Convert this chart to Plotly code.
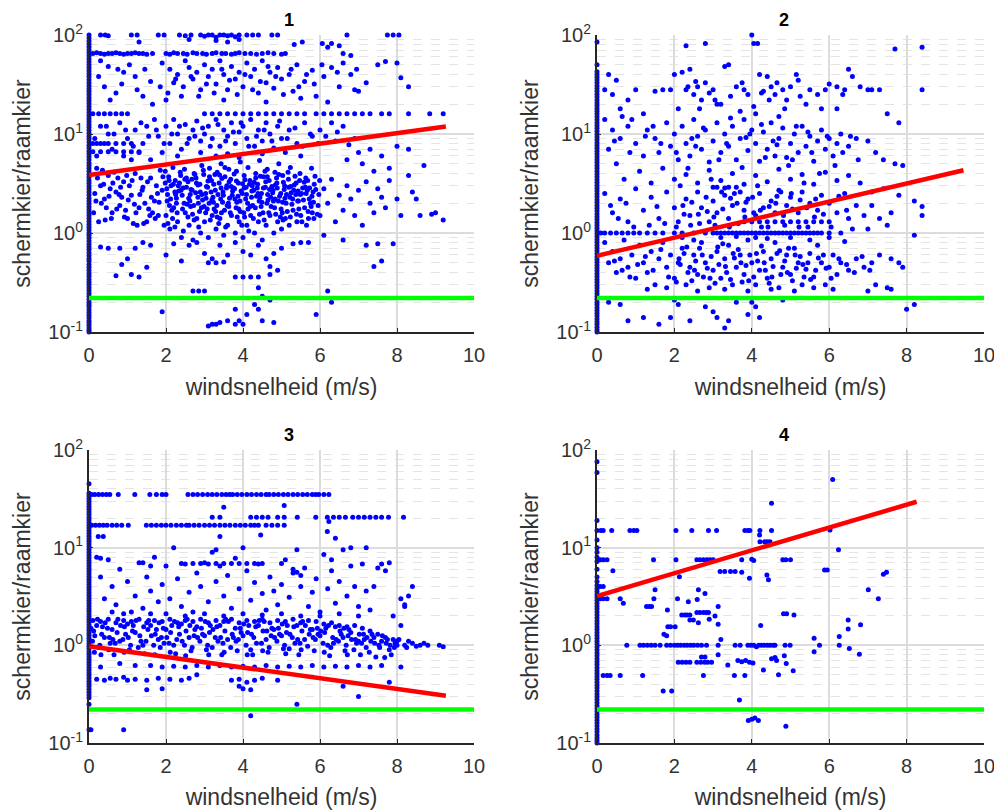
import plotly.graph_objects as go

# ---- data (x = windsnelheid m/s, y = schermkier/raamkier) ----

# points sitting on x = 0 (the solid columns on the left axis)
p1_x0 = [0.1, 0.104, 0.11, 0.117, 0.124, 0.13, 0.139, 0.148, 0.157, 0.168, 0.18, 0.19, 0.2, 0.214, 0.23, 0.245,
         0.262, 0.28, 0.3, 0.318, 0.34, 0.365, 0.39, 0.42, 0.45, 0.48, 0.52, 0.55, 0.59, 0.63, 0.68, 0.72, 0.77,
         0.83, 0.89, 0.95, 1.0, 1.07, 1.14, 1.22, 1.31, 1.4, 1.5, 1.61, 1.72, 1.84, 1.97, 2.1, 2.25, 2.42, 2.6,
         2.78, 2.97, 3.18, 3.4, 3.65, 3.9, 4.2, 4.5, 4.8, 5.1, 5.5, 5.9, 6.3, 6.7, 7.2, 7.7, 8.3, 8.9, 9.5, 10.2,
         10.9, 11.7, 12.5, 13.4, 14.3, 15.4, 16.5, 17.7, 19, 20.3, 21.8, 23.3, 25, 26.8, 28.7, 30.8, 33, 35.4,
         38, 40.7, 43.6, 46.7, 50, 53.6, 57.5, 61.6, 66, 70.7, 75.8, 81.2, 87, 93.3, 100]
p2_x0 = [0.1, 0.105, 0.112, 0.12, 0.127, 0.135, 0.145, 0.155, 0.165, 0.176, 0.188, 0.2, 0.214, 0.228, 0.244,
         0.26, 0.278, 0.297, 0.318, 0.34, 0.363, 0.388, 0.415, 0.443, 0.473, 0.505, 0.54, 0.577, 0.617, 0.66,
         0.705, 0.753, 0.805, 0.86, 0.92, 0.98, 1.05, 1.12, 1.2, 1.28, 1.37, 1.46, 1.56, 1.67, 1.78, 1.9, 2.03,
         2.17, 2.32, 2.48, 2.65, 2.83, 3.02, 3.23, 3.45, 3.69, 3.94, 4.21, 4.5, 4.81, 5.14, 5.49, 5.87, 6.27,
         6.7, 7.16, 7.65, 8.17, 8.73, 9.33, 9.97, 10.65, 11.4, 12.2, 13, 13.9, 14.9, 15.9, 17, 18.1, 19.4, 20.7,
         22.1, 23.6, 25.2, 27, 28.8, 30.8, 32.9, 35.1, 37.5, 40, 42.5, 50, 85]
p3_x0 = [0.137, 0.25, 0.29, 0.31, 0.33, 0.355, 0.38, 0.405, 0.43, 0.46, 0.49, 0.52, 0.555, 0.59, 0.63, 0.67,
         0.715, 0.76, 0.81, 0.86, 0.92, 0.98, 1.04, 1.11, 1.18, 1.26, 1.34, 1.43, 1.52, 1.62, 1.73, 1.84, 1.96,
         2.09, 2.23, 2.37, 2.53, 2.69, 2.87, 3.06, 3.26, 3.47, 3.7, 3.94, 4.2, 4.47, 4.76, 5.07, 5.4, 5.76, 6.13,
         6.53, 6.96, 7.41, 7.9, 8.41, 8.96, 9.55, 10.2, 10.9, 11.6, 12.3, 13.1, 14, 14.9, 15.9, 16.9, 18, 19.2,
         20.4, 21.8, 23.2, 24.7, 26.3, 28, 29.9, 31.8, 33.9, 36, 45]
p4_x0 = [0.1, 0.106, 0.113, 0.121, 0.13, 0.139, 0.149, 0.16, 0.171, 0.183, 0.196, 0.21, 0.225, 0.241, 0.258,
         0.277, 0.297, 0.318, 0.341, 0.365, 0.39, 0.42, 0.45, 0.48, 0.515, 0.55, 0.59, 0.635, 0.68, 0.73, 0.78,
         0.835, 0.895, 0.96, 1.03, 1.1, 1.18, 1.26, 1.35, 1.45, 1.55, 1.66, 1.78, 1.91, 2.05, 2.2, 2.35, 2.52,
         2.7, 2.9, 3.1, 3.32, 3.56, 3.8, 4.1, 4.5, 5.0, 6.0, 7.2, 8.0, 9.0, 10.0, 12.0, 15.0, 19.0, 59.0, 76.0]

# scattered points per panel, (x, y)
p1_pts = [
    (0.3, 100), (0.42, 100), (0.5, 98), (1.1, 100), (1.25, 100), (1.8, 100), (1.95, 100), (2.35, 100), (2.5, 98),
    (2.65, 100), (2.9, 100), (3.0, 97), (3.1, 100), (3.2, 100), (3.3, 95), (3.4, 100), (3.5, 100), (3.6, 98),
    (3.7, 100), (3.8, 96), (3.9, 100), (4.1, 100), (4.25, 100), (4.4, 100), (4.75, 100), (4.9, 100), (6.7, 100),
    (7.75, 100), (7.9, 100), (8.05, 100), (3.3, 88), (3.6, 85), (3.9, 90), (2.6, 90), (1.3, 85), (5.54, 85),
    (6.06, 82), (6.3, 82), (6.5, 78), (5.33, 80), (6.2, 75),
    (0.1, 65), (0.2, 66), (0.3, 65), (0.4, 64), (0.5, 65), (0.6, 65), (0.7, 66), (0.8, 65), (0.9, 64), (1.0, 65),
    (1.1, 65), (1.2, 66), (1.3, 65), (1.4, 65), (1.5, 64), (1.65, 65), (2.0, 65), (2.1, 64), (2.2, 66), (2.3, 65),
    (2.45, 65), (2.55, 64), (2.7, 66), (2.8, 65), (2.95, 65), (3.05, 64), (3.2, 65), (3.3, 66), (3.45, 65),
    (3.55, 65), (3.7, 64), (3.8, 65), (3.9, 66), (4.05, 65), (4.2, 65), (4.35, 64), (4.5, 65), (4.65, 66),
    (4.8, 65), (5.0, 64), (5.1, 65), (6.6, 65), (6.8, 62),
    (0.3, 55), (0.5, 48), (0.9, 42), (1.2, 38), (0.4, 30), (0.7, 26), (1.4, 24), (1.9, 52), (2.1, 45), (2.3, 40),
    (2.2, 33), (2.5, 55), (2.6, 47), (2.7, 36), (2.8, 42), (2.9, 28), (3.0, 50), (3.1, 38), (3.2, 45), (3.3, 32),
    (3.4, 55), (3.5, 40), (3.6, 28), (3.7, 48), (3.8, 36), (3.9, 42), (4.0, 30), (4.1, 52), (4.2, 38), (4.3, 45),
    (4.4, 26), (4.5, 55), (4.6, 33), (4.7, 42), (4.8, 29), (4.9, 47), (5.0, 36), (5.2, 40), (5.3, 27), (5.4, 50),
    (5.6, 34), (5.8, 44), (5.9, 24), (6.1, 38), (6.3, 47), (6.5, 30), (6.6, 52), (6.8, 40), (7.0, 27), (7.2, 33),
    (7.5, 50), (7.7, 54), (8.0, 52), (8.3, 30), (8.1, 37), (1.6, 34), (2.0, 22), (2.4, 24), (3.5, 22), (4.6, 21),
    (5.5, 23), (6.2, 21), (6.9, 28),
    (1.65, 20), (1.85, 30), (2.05, 26), (2.25, 36), (2.45, 30), (2.65, 38), (2.85, 24), (3.05, 32), (3.25, 26),
    (3.45, 45), (3.65, 35), (3.85, 25), (4.05, 40), (4.25, 28), (4.45, 34), (4.65, 48), (4.85, 38), (5.05, 25),
    (5.25, 45), (5.45, 30), (5.65, 40), (5.85, 32), (6.05, 50), (6.45, 42), (6.95, 45), (1.05, 50), (0.75, 45),
    (0.25, 38), (0.55, 22), (1.25, 28), (0.85, 32), (1.45, 45),
    (0.1, 16), (0.25, 16), (0.4, 16), (0.55, 16), (0.7, 16), (0.85, 16), (1.0, 16), (3.0, 16), (3.2, 16), (3.4, 16),
    (3.6, 16), (3.8, 16), (4.0, 16), (4.2, 16), (4.4, 16), (4.6, 16), (4.8, 16), (5.0, 16), (5.2, 16), (5.4, 16),
    (5.6, 16), (5.9, 16), (6.1, 16), (6.3, 16), (6.5, 16), (6.7, 16), (6.9, 16), (7.1, 16), (7.3, 16), (7.6, 16),
    (7.8, 16), (8.3, 16), (8.85, 16), (9.2, 16),
    (0.1, 8), (0.2, 8), (0.3, 8), (0.5, 8), (0.7, 8), (0.9, 8), (1.1, 8), (0.1, 6.6), (0.3, 6.6), (0.5, 6.6),
    (0.7, 6.6), (0.9, 6.6), (1.1, 6.6), (1.3, 6.6),
    (0.3, 12), (0.5, 10), (0.8, 13), (0.4, 8), (1.0, 9), (1.2, 11), (0.6, 7), (1.4, 8), (1.5, 12), (1.7, 14),
    (1.8, 9.5), (2.0, 12), (2.1, 8), (2.2, 14), (2.3, 10), (2.4, 7), (2.5, 12.5), (2.6, 9), (2.7, 11), (2.8, 13.5),
    (2.9, 8.5), (3.0, 10), (3.1, 12), (3.2, 9), (3.3, 14), (3.4, 7.5), (3.5, 11), (3.6, 9.5), (3.7, 13), (3.8, 8),
    (3.9, 10.5), (4.0, 12), (4.1, 9), (4.2, 14), (4.3, 7.5), (4.4, 11), (4.5, 8.5), (4.6, 13), (4.7, 10),
    (4.8, 7.2), (4.9, 12), (5.0, 9), (5.2, 11), (5.4, 8), (5.6, 13), (5.8, 9.5), (6.0, 11), (6.3, 13), (6.6, 12),
    (0.15, 9), (0.45, 12), (0.65, 10), (0.95, 11), (1.15, 7.5), (1.35, 13), (1.55, 9.5), (1.75, 11), (1.95, 8),
    (2.15, 10), (2.35, 12), (2.55, 8), (2.75, 9.5), (2.95, 11.5), (3.15, 7.5), (3.35, 12.5), (3.55, 8.5),
    (3.75, 10.5), (3.95, 13), (4.15, 7.5), (4.35, 9.5), (4.55, 11), (4.75, 8.5), (4.95, 13.5), (5.15, 9),
    (5.35, 11.5), (5.55, 7.5), (5.75, 10), (5.95, 8), (6.15, 9.5), (6.45, 10.5), (6.75, 7.8),
    (0.2, 6), (0.9, 6), (1.1, 5.5), (1.3, 6.5), (1.6, 5.5), (1.9, 6.5), (2.3, 6), (2.9, 6.5), (3.3, 6), (3.6, 6.3),
    (3.9, 5.8), (4.5, 6.3), (5.1, 6.5), (5.5, 6), (6.4, 8.5), (6.9, 9), (7.0, 6.5), (7.3, 7), (7.6, 6), (8.0, 7.5),
    (8.3, 7), (7.8, 4.5), (8.7, 4.8), (7.4, 4.2), (7.1, 5), (6.7, 5.5),
    (0.2, 4.5), (0.3, 3), (0.4, 2.2), (0.5, 3.8), (0.6, 1.6), (0.7, 2.6), (0.8, 1.9), (0.9, 3.3), (1.0, 1.4),
    (1.1, 2.4), (1.2, 4), (1.3, 1.8), (1.4, 2.9), (1.5, 1.3), (1.6, 3.6), (1.7, 2.1), (1.8, 1.5), (1.9, 2.7),
    (0.25, 1.3), (0.45, 1.8), (0.65, 4.1), (0.85, 2.3), (1.05, 3), (1.25, 1.2), (1.45, 2), (1.65, 1.6), (1.85, 4.3),
    (0.15, 2.5), (0.55, 2.8), (0.95, 1.7), (1.35, 3.6), (1.75, 3),
    (0.12, 1.6), (0.22, 3.6), (0.32, 2.0), (0.42, 1.35), (0.52, 2.35), (0.62, 3.2), (0.72, 1.75), (0.82, 2.9),
    (0.92, 1.45), (1.02, 2.15), (1.12, 3.4), (1.22, 1.6), (1.32, 2.45), (1.42, 1.25), (1.52, 3.3), (1.62, 2.3),
    (1.72, 1.4), (1.82, 2.05), (1.92, 3.7), (1.55, 1.75), (1.15, 1.25), (0.75, 3.6), (0.35, 4.3), (1.95, 1.2),
    (0.18, 2.1), (0.38, 3.1), (0.58, 1.4), (0.78, 2.45), (0.98, 3.8), (1.18, 1.95), (1.38, 2.7), (1.58, 1.5),
    (1.78, 2.5), (1.98, 3.2),
    (2.0, 1.5), (2.02, 2.8), (1.98, 4.2), (2.1, 1.1), (2.12, 2.2), (2.08, 3.4), (2.2, 1.8), (2.23, 2.6), (2.18, 4.6),
    (2.3, 1.3), (2.32, 3.0), (2.27, 2.0), (2.4, 0.9), (2.42, 2.4), (2.38, 3.8), (2.5, 1.6), (2.53, 2.9), (2.48, 4.4),
    (2.6, 1.2), (2.62, 2.1), (2.57, 3.3), (2.7, 0.85), (2.72, 1.9), (2.68, 2.7), (2.73, 4.0), (2.8, 1.4), (2.83, 2.3),
    (2.78, 3.6), (2.9, 1.0), (2.92, 1.8), (2.88, 3.1), (2.93, 4.8), (3.0, 1.3), (3.03, 2.5), (2.98, 3.9), (3.1, 0.9),
    (3.12, 2.0), (3.08, 2.9), (3.13, 4.5), (3.2, 1.5), (3.22, 2.3), (3.18, 3.4), (3.3, 1.1), (3.32, 1.9), (3.28, 2.7),
    (3.33, 4.1), (3.4, 1.4), (3.42, 2.2), (3.38, 3.2), (3.43, 5.0), (3.5, 0.95), (3.52, 1.7), (3.48, 2.6),
    (3.53, 3.7), (3.6, 1.2), (3.62, 2.0), (3.58, 3.0), (3.63, 4.4), (3.7, 1.5), (3.72, 2.4), (3.68, 3.5), (3.8, 1.0),
    (3.82, 1.8), (3.78, 2.8), (3.83, 4.2), (3.9, 1.3), (3.92, 2.1), (3.88, 3.2), (3.93, 5.2), (4.0, 0.9),
    (4.02, 1.6), (3.98, 2.5), (4.03, 3.8), (4.1, 1.2), (4.12, 2.0), (4.08, 2.9), (4.13, 4.6), (4.2, 1.5),
    (4.22, 2.3), (4.18, 3.4), (4.3, 1.0), (4.32, 1.8), (4.28, 2.7), (4.33, 4.0), (4.4, 1.3), (4.42, 2.1),
    (4.38, 3.1), (4.43, 5.4), (4.5, 0.85), (4.52, 1.6), (4.48, 2.5), (4.53, 3.7), (4.6, 1.2), (4.62, 2.0),
    (4.58, 2.9), (4.63, 4.4), (4.7, 1.5), (4.72, 2.3), (4.68, 3.4), (4.8, 1.0), (4.82, 1.8), (4.78, 2.7),
    (4.83, 4.1), (4.9, 1.3), (4.92, 2.1), (4.88, 3.2), (4.93, 5.0), (5.0, 1.1), (5.02, 1.6), (4.98, 2.5),
    (5.03, 3.8), (5.1, 1.4), (5.12, 2.0), (5.08, 3.0), (5.2, 1.2), (5.22, 2.3), (5.18, 3.5), (5.23, 4.6),
    (5.3, 1.7), (5.32, 2.7), (5.4, 1.3), (5.42, 2.1), (5.38, 3.2), (5.5, 1.5), (5.52, 2.5), (5.48, 4.0),
    (5.6, 1.8), (5.62, 2.9), (5.7, 1.4), (5.72, 2.2), (5.68, 3.4), (5.8, 1.6), (5.82, 2.6), (5.78, 4.5),
    (2.05, 1.25), (2.15, 1.7), (2.25, 2.45), (2.35, 3.2), (2.45, 1.05), (2.55, 1.95), (2.65, 2.75), (2.75, 3.9),
    (2.85, 1.15), (2.95, 2.15), (3.05, 2.95), (3.15, 1.35), (3.25, 1.75), (3.35, 2.45), (3.45, 3.55), (3.55, 1.15),
    (3.65, 2.25), (3.75, 2.85), (3.85, 1.45), (3.95, 2.65), (4.05, 3.45), (4.15, 1.05), (4.25, 1.9), (4.35, 2.35),
    (4.45, 3.75), (4.55, 1.35), (4.65, 2.15), (4.75, 2.95), (4.85, 1.55), (4.95, 2.35), (5.05, 3.25), (5.15, 1.65),
    (5.25, 2.55), (5.35, 3.75), (5.45, 1.75), (5.55, 2.85), (5.65, 1.2), (5.75, 2.0), (5.85, 3.1), (5.95, 1.9),
    (2.07, 3.7), (2.17, 1.4), (2.27, 2.25), (2.37, 4.1), (2.47, 2.0), (2.57, 1.45), (2.67, 3.5), (2.77, 2.55),
    (2.87, 1.65), (2.97, 4.3), (3.07, 1.75), (3.17, 2.6), (3.27, 3.9), (3.37, 1.25), (3.47, 2.05), (3.57, 2.85),
    (3.67, 1.6), (3.77, 3.95), (3.87, 2.35), (3.97, 1.2), (4.07, 2.2), (4.17, 3.1), (4.27, 1.4), (4.37, 2.85),
    (4.47, 1.85), (4.57, 4.2), (4.67, 1.6), (4.77, 2.55), (4.87, 3.6), (4.97, 1.45), (5.07, 2.75), (5.17, 4.1),
    (5.27, 1.95), (5.37, 2.45), (5.47, 3.4), (5.57, 2.15), (5.67, 2.7), (5.77, 1.85), (5.87, 3.75), (5.97, 2.45),
    (2.03, 2.1), (2.13, 3.0), (2.23, 1.15), (2.33, 2.65), (2.43, 1.75), (2.53, 3.6), (2.63, 2.45), (2.73, 1.35),
    (2.83, 3.05), (2.93, 2.45), (3.03, 1.6), (3.13, 3.7), (3.23, 2.05), (3.33, 1.45), (3.43, 2.85), (3.53, 4.6),
    (3.63, 1.85), (3.73, 2.65), (3.83, 3.35), (3.93, 1.65), (4.03, 2.85), (4.13, 1.75), (4.23, 2.65), (4.33, 3.6),
    (4.43, 1.55), (4.53, 2.85), (4.63, 3.7), (4.73, 1.85), (4.83, 2.2), (4.93, 3.9), (5.03, 2.05), (5.13, 2.45),
    (5.23, 1.45), (5.33, 3.05), (5.43, 2.65), (5.53, 1.3), (5.63, 3.6), (5.73, 2.85), (5.83, 2.05), (5.93, 1.55),
    (2.09, 1.9), (2.19, 3.1), (2.29, 1.6), (2.39, 2.7), (2.49, 3.5), (2.59, 2.25), (2.69, 1.55), (2.79, 3.2),
    (2.89, 2.6), (2.99, 1.85), (3.09, 3.35), (3.19, 2.15), (3.29, 1.65), (3.39, 3.85), (3.49, 2.4), (3.59, 1.9),
    (3.69, 2.95), (3.79, 2.2), (3.89, 1.75), (3.99, 3.15), (4.09, 2.45), (4.19, 1.85), (4.29, 3.25), (4.39, 2.5),
    (4.49, 2.05), (4.59, 3.3), (4.69, 2.75), (4.79, 2.1), (4.89, 2.85), (4.99, 1.75), (5.09, 2.25), (5.19, 2.9),
    (5.29, 2.2), (5.39, 1.55), (5.49, 2.45), (5.59, 3.25), (5.69, 1.65), (5.79, 2.35), (5.89, 2.75), (5.99, 3.4),
    (2.04, 2.45), (2.24, 3.4), (2.44, 2.85), (2.64, 1.85), (2.84, 2.0), (3.04, 2.25), (3.24, 3.1), (3.44, 1.6),
    (3.64, 3.3), (3.84, 2.05), (4.04, 1.45), (4.24, 3.0), (4.44, 2.3), (4.64, 2.45), (4.84, 3.05), (5.04, 1.35),
    (5.24, 2.95), (5.44, 2.1), (5.64, 2.5), (5.84, 1.4),
    (6.0, 1.5), (6.1, 2.8), (6.2, 2.0), (6.3, 3.5), (6.4, 1.3), (6.5, 2.4), (6.6, 1.7), (6.7, 3.0), (6.8, 2.2),
    (6.9, 1.5), (7.0, 2.7), (7.1, 1.2), (7.2, 3.3), (7.3, 2.0), (7.4, 1.6), (7.5, 2.8), (7.6, 2.3), (7.7, 1.8),
    (7.8, 3.4), (8.0, 2.2), (8.1, 1.5), (8.3, 3.8), (8.4, 2.6), (8.5, 2.2), (8.6, 1.5), (8.9, 1.55), (9.0, 1.6),
    (9.2, 1.35), (6.1, 0.95), (6.6, 0.85), (7.2, 0.75), (7.5, 0.78), (7.9, 0.78), (7.6, 0.52), (7.4, 0.46),
    (5.7, 0.8), (6.2, 0.26), (5.9, 0.15), (6.3, 0.2),
    (0.3, 0.72), (0.5, 0.7), (0.8, 0.7), (1.0, 0.55), (1.2, 0.7), (1.4, 0.8), (1.6, 0.75), (1.5, 0.45), (0.7, 0.37),
    (1.3, 0.36), (2.0, 0.6), (2.2, 0.78), (2.4, 0.52), (2.6, 0.75), (2.8, 0.8), (3.0, 0.62), (3.2, 0.55),
    (3.4, 0.75), (3.6, 0.6), (3.8, 0.8), (4.0, 0.65), (4.2, 0.6), (4.4, 0.75), (4.6, 0.55), (4.8, 0.62), (5.0, 0.7),
    (5.3, 0.78), (5.5, 0.8), (3.1, 0.5), (3.3, 0.5), (3.5, 0.51), (4.7, 0.46), (4.9, 0.42), (1.9, 0.16),
    (3.8, 0.36), (4.0, 0.36), (4.2, 0.36), (4.4, 0.36), (4.7, 0.38), (2.7, 0.26), (2.85, 0.26), (3.0, 0.26),
    (4.4, 0.28), (4.5, 0.23), (4.7, 0.21), (4.3, 0.19), (4.4, 0.17), (3.8, 0.17), (4.1, 0.15), (4.0, 0.12),
    (3.1, 0.115), (3.2, 0.12), (3.3, 0.12), (3.4, 0.125), (3.6, 0.13), (3.8, 0.12), (3.9, 0.13), (4.5, 0.13),
    (4.8, 0.125), (0.85, 0.48), (1.1, 0.38),
]

p2_pts = [
    (0.3, 40), (0.5, 35), (0.2, 28), (0.4, 25), (0.8, 22), (1.0, 28), (0.6, 18), (1.5, 27), (1.7, 28), (1.9, 28),
    (2.0, 40), (2.2, 42), (2.4, 45), (2.3, 28), (2.5, 25), (2.6, 30), (2.7, 22), (2.8, 33), (2.9, 26), (3.0, 28),
    (3.1, 20), (3.3, 48), (3.4, 50), (3.6, 30), (3.8, 28), (3.9, 25), (4.0, 100), (4.05, 82), (4.15, 82),
    (2.8, 82), (2.3, 78), (4.2, 40), (4.4, 38), (4.3, 27), (4.5, 30), (4.6, 25), (4.8, 28), (4.9, 22), (5.0, 30),
    (5.2, 35), (5.5, 28), (5.7, 25), (6.0, 32), (5.4, 20), (5.8, 18), (6.2, 18), (6.5, 45), (6.6, 38), (6.8, 30),
    (7.0, 28), (7.1, 28), (7.3, 28), (7.5, 16), (7.8, 13), (7.7, 72), (8.4, 75), (8.4, 28), (6.4, 28), (6.2, 30),
    (5.9, 28), (3.2, 20), (2.1, 18), (1.2, 16), (0.9, 14), (3.7, 17), (4.1, 16), (4.7, 15),
    (2.65, 18), (3.05, 22), (3.45, 24), (4.05, 19), (4.45, 22), (4.85, 18), (5.25, 24), (2.35, 30), (2.55, 34),
    (3.75, 33), (4.25, 26), (4.65, 33), (5.15, 40), (6.35, 25),
    (0.2, 14), (0.4, 11), (0.6, 9), (0.3, 7), (0.8, 12), (1.0, 8), (1.2, 6), (0.5, 5), (1.3, 11), (1.5, 9),
    (1.6, 6.5), (1.8, 13), (1.9, 7.5), (2.0, 10), (2.1, 5.5), (2.2, 12), (2.3, 8), (2.4, 6), (2.5, 14), (2.6, 9.5),
    (2.7, 7), (2.8, 11), (2.9, 5.2), (3.0, 8.5), (3.1, 13), (3.2, 6.5), (3.3, 10), (3.4, 7.5), (3.5, 12),
    (3.6, 5.5), (3.7, 9), (3.8, 14), (3.9, 6.8), (4.0, 11), (4.1, 8), (4.2, 5.3), (4.3, 10.5), (4.4, 7), (4.5, 13),
    (4.6, 6), (4.7, 9), (4.8, 11.5), (4.9, 5.8), (5.0, 8), (5.1, 10), (5.2, 6.5), (5.3, 12), (5.4, 7.5), (5.5, 9.5),
    (5.6, 5.3), (5.7, 8.5), (5.8, 11), (5.9, 7), (6.0, 9), (6.1, 6), (6.2, 8), (6.3, 10), (6.5, 7.5), (6.7, 9),
    (7.0, 8.5), (7.2, 6.5), (7.4, 5.5), (7.7, 5), (7.9, 4.8),
    (2.15, 3.0), (2.35, 4.5), (2.55, 7.5), (2.75, 11.5), (2.95, 3.5), (3.15, 5.5), (3.35, 8), (3.55, 2.5),
    (3.75, 4.6), (3.95, 10), (4.15, 3.0), (4.35, 5.8), (4.55, 8.5), (4.75, 2.6), (4.95, 4.8), (5.15, 12),
    (5.35, 3.2), (5.55, 6.5), (5.75, 4.0), (5.95, 9.5), (6.15, 4.8), (6.35, 6.5), (6.55, 9.5), (6.75, 5.5),
    (3.45, 14.5), (3.85, 9.2), (4.25, 12.5), (4.65, 7.8), (5.05, 5.5), (5.45, 10.5), (2.45, 9), (2.05, 6.5),
    (1.65, 8), (1.25, 9.5), (0.85, 6.5), (0.45, 8.5), (1.45, 12), (0.65, 15),
    (0.7, 3.5), (1.1, 4.2), (1.4, 3.2), (1.7, 4.5),
    (2.0, 3.5), (2.3, 3.9), (2.6, 3.2), (2.9, 4.3), (3.2, 3.4), (3.5, 4.0), (3.8, 3.1), (4.1, 3.8), (4.4, 3.3),
    (4.7, 4.4), (5.0, 3.5), (5.3, 3.9), (5.6, 3.1), (5.9, 4.1), (6.2, 3.4), (6.5, 3.8), (6.8, 3.2), (7.1, 2.6),
    (7.4, 2.8), (7.8, 2.4), (8.2, 2.1), (8.4, 1.85), (8.4, 1.5), (8.2, 0.95), (3.0, 2.9), (3.1, 2.9), (3.3, 2.85),
    (3.4, 2.9), (3.6, 2.9),
    (0.1, 1.0), (0.2, 1.0), (0.35, 1.0), (0.5, 1.0), (0.65, 1.0), (0.8, 1.0), (0.95, 1.0), (1.1, 1.0), (1.3, 1.0),
    (1.5, 1.0), (1.7, 1.0), (2.0, 1.0), (2.2, 1.0), (2.5, 1.0), (2.8, 1.0), (3.0, 1.0), (3.1, 1.0), (3.2, 1.0),
    (3.3, 1.0), (3.4, 1.0), (3.5, 1.0), (3.6, 1.0), (3.7, 1.0), (3.8, 1.0), (3.9, 1.0), (4.0, 1.0), (4.1, 1.0),
    (4.2, 1.0), (4.3, 1.0), (4.4, 1.0), (4.5, 1.0), (4.6, 1.0), (4.7, 1.0), (4.8, 1.0), (4.9, 1.0), (5.0, 1.0),
    (5.1, 1.0), (5.2, 1.0), (5.3, 1.0), (5.4, 1.0), (5.5, 1.0), (5.6, 1.0), (5.7, 1.0), (5.8, 1.0), (6.0, 1.0),
    (6.3, 1.0), (3.8, 1.3), (4.0, 1.3), (4.2, 1.3), (4.4, 1.3), (4.6, 1.3), (4.8, 1.3), (5.0, 1.3), (5.2, 1.3),
    (5.4, 1.3), (5.6, 1.3), (5.8, 1.3), (6.0, 1.3),
    (0.2, 2.5), (0.4, 1.6), (0.6, 2.2), (0.8, 1.3), (1.0, 2.8), (1.2, 1.7), (1.4, 2.3), (1.6, 1.4), (1.8, 2.6),
    (2.0, 1.8), (2.1, 1.3), (2.3, 2.2), (2.4, 1.5), (2.6, 2.6), (2.7, 1.8), (2.9, 1.3), (3.0, 2.1), (3.1, 1.6),
    (3.3, 2.4), (3.4, 1.4), (3.5, 1.9), (3.7, 2.6), (3.8, 1.7), (3.9, 2.2), (4.1, 1.5), (4.2, 2.5), (4.3, 1.8),
    (4.5, 2.1), (4.6, 1.6), (4.7, 2.7), (4.9, 1.9), (5.0, 2.3), (5.2, 1.6), (5.3, 2.6), (5.5, 2.0), (5.7, 1.7),
    (5.8, 2.4), (6.0, 2.0), (6.2, 1.6), (6.4, 2.5), (6.5, 1.4), (6.7, 1.9), (6.9, 1.5), (7.1, 1.9), (7.3, 1.4),
    (7.5, 1.2), (7.6, 1.6), (7.0, 1.1), (6.6, 1.1),
    (2.05, 1.15), (2.25, 1.55), (2.45, 2.05), (2.65, 1.25), (2.85, 1.65), (3.05, 1.2), (3.25, 1.75), (3.45, 2.25),
    (3.65, 1.25), (3.85, 2.05), (4.05, 1.6), (4.25, 1.15), (4.45, 1.85), (4.65, 2.35), (4.85, 1.2), (5.05, 1.75),
    (5.25, 2.15), (5.45, 1.15), (5.65, 2.2), (5.85, 1.55), (6.05, 1.15), (6.25, 2.35), (6.45, 1.7), (1.35, 1.2),
    (1.55, 1.85), (1.75, 1.25), (0.55, 1.4), (0.75, 2.0), (0.95, 1.15), (0.35, 1.9),
    (3.02, 1.45), (3.22, 2.6), (3.42, 1.15), (3.62, 2.0), (3.82, 1.45), (4.02, 2.3), (4.22, 1.7), (4.42, 1.15),
    (4.62, 2.0), (4.82, 1.5), (5.02, 2.5), (5.22, 1.15), (5.42, 1.8), (5.62, 1.45), (2.82, 2.3), (2.62, 1.55),
    (2.42, 1.2), (2.22, 1.9),
    (0.2, 0.8), (0.3, 0.5), (0.4, 0.65), (0.5, 0.4), (0.6, 0.55), (0.7, 0.85), (0.8, 0.45), (0.9, 0.6), (1.0, 0.35),
    (1.1, 0.75), (1.2, 0.5), (1.3, 0.4), (1.4, 0.65), (1.5, 0.3), (1.6, 0.55), (1.7, 0.8), (1.8, 0.45), (1.9, 0.6),
    (2.0, 0.35), (2.1, 0.5), (2.2, 0.7), (2.3, 0.3), (2.4, 0.45), (2.5, 0.6), (2.6, 0.38), (2.7, 0.8), (2.8, 0.5),
    (2.9, 0.28), (3.0, 0.42), (3.1, 0.65), (3.2, 0.35), (3.3, 0.55), (3.4, 0.75), (3.5, 0.3), (3.6, 0.45),
    (3.7, 0.6), (3.8, 0.38), (3.9, 0.85), (4.0, 0.5), (4.1, 0.3), (4.2, 0.42), (4.3, 0.65), (4.4, 0.35),
    (4.5, 0.55), (4.6, 0.8), (4.7, 0.28), (4.8, 0.45), (4.9, 0.6), (5.0, 0.38), (5.1, 0.7), (5.2, 0.5), (5.3, 0.3),
    (5.4, 0.43), (5.5, 0.62), (5.6, 0.36), (5.7, 0.75), (5.8, 0.5), (5.9, 0.3), (6.0, 0.45), (6.1, 0.6),
    (6.2, 0.38), (6.3, 0.5), (6.5, 0.42), (6.7, 0.55), (6.9, 0.45), (7.1, 0.5), (7.3, 0.6), (7.6, 0.55), (7.8, 0.5),
    (7.9, 0.45), (7.2, 0.3), (7.5, 0.28), (7.0, 0.26), (7.6, 0.27), (2.2, 0.9), (2.5, 0.85), (3.2, 0.9), (3.6, 0.92),
    (4.1, 0.9), (4.4, 0.88), (5.0, 0.9), (5.5, 0.85), (6.0, 0.9), (6.4, 0.82), (1.3, 0.27), (1.8, 0.28), (2.6, 0.26),
    (3.3, 0.27), (3.9, 0.26), (4.5, 0.27), (5.1, 0.26), (5.6, 0.28), (6.1, 0.27),
    (2.05, 0.32), (2.15, 0.48), (2.25, 0.62), (2.35, 0.4), (2.45, 0.33), (2.55, 0.52), (2.65, 0.7), (2.75, 0.36),
    (2.85, 0.44), (2.95, 0.58), (3.05, 0.31), (3.15, 0.48), (3.25, 0.78), (3.35, 0.4), (3.45, 0.34), (3.55, 0.56),
    (3.65, 0.68), (3.75, 0.32), (3.85, 0.47), (3.95, 0.6), (4.05, 0.36), (4.15, 0.52), (4.25, 0.74), (4.35, 0.42),
    (4.45, 0.31), (4.55, 0.46), (4.65, 0.62), (4.75, 0.38), (4.85, 0.52), (4.95, 0.7), (5.05, 0.33), (5.15, 0.44),
    (5.25, 0.58), (5.35, 0.36), (5.45, 0.5), (5.65, 0.42), (5.85, 0.6), (6.05, 0.35), (6.25, 0.55), (6.45, 0.48),
    (6.65, 0.4), (6.85, 0.58), (7.05, 0.42), (1.25, 0.58), (1.45, 0.42), (1.65, 0.68), (1.85, 0.36), (1.05, 0.48),
    (0.85, 0.36), (0.65, 0.42), (0.45, 0.52),
    (2.12, 0.55), (2.32, 0.72), (2.52, 0.42), (2.72, 0.6), (2.92, 0.35), (3.12, 0.72), (3.32, 0.46), (3.52, 0.62),
    (3.72, 0.5), (3.92, 0.33), (4.12, 0.62), (4.32, 0.5), (4.52, 0.36), (4.72, 0.66), (4.92, 0.4), (5.12, 0.6),
    (5.32, 0.48), (5.52, 0.34), (5.72, 0.56), (5.92, 0.44),
    (0.3, 0.2), (0.6, 0.19), (0.8, 0.13), (1.2, 0.14), (1.6, 0.12), (1.9, 0.14), (2.1, 0.19), (2.4, 0.13),
    (2.8, 0.18), (3.0, 0.16), (3.1, 0.14), (3.3, 0.11), (3.4, 0.13), (3.6, 0.2), (3.9, 0.15), (4.2, 0.14),
    (4.0, 0.2), (4.1, 0.18), (8.2, 0.19), (8.0, 0.17), (4.8, 0.21), (2.0, 0.21),
]

p3_pts = [
    (0.07, 35), (0.15, 35), (0.25, 35), (0.35, 35), (0.45, 35), (0.54, 35), (0.76, 35), (1.19, 35), (1.58, 35),
    (1.75, 35), (1.9, 35), (2.0, 35), (2.57, 35), (2.7, 35), (2.82, 35), (2.95, 35), (3.08, 35), (3.2, 35),
    (3.32, 35), (3.45, 35), (3.56, 35), (3.65, 35), (3.73, 35), (3.85, 35), (3.97, 35), (4.1, 35), (4.22, 35),
    (4.35, 35), (4.47, 35), (4.6, 35), (4.68, 35), (4.8, 35), (4.92, 35), (5.05, 35), (5.17, 35), (5.3, 35),
    (5.42, 35), (5.55, 35), (5.67, 35), (5.8, 35), (5.89, 35), (5.97, 35), (6.1, 35), (6.23, 35),
    (0.07, 17), (0.17, 17), (0.27, 17), (0.37, 17), (0.47, 17), (0.6, 17), (0.72, 17), (0.85, 17), (1.02, 17),
    (1.49, 17), (1.62, 17), (1.75, 17), (1.88, 17), (2.0, 17), (2.13, 17), (2.27, 17), (2.4, 17), (2.53, 17),
    (2.6, 17), (2.73, 17), (2.86, 17), (3.0, 17), (3.13, 17), (3.26, 17), (3.4, 17), (3.53, 17), (3.66, 17),
    (3.8, 17), (3.93, 17), (4.06, 17), (4.2, 17), (4.3, 17), (4.4, 17), (4.6, 17), (4.75, 17), (4.9, 17),
    (5.07, 17),
    (3.2, 20.5), (3.4, 20.5), (4.2, 20.5), (4.35, 20.5), (4.5, 20.5), (4.65, 20.5), (4.9, 20.5), (5.07, 20.5),
    (5.41, 20.5), (5.89, 20.5), (6.19, 20.5), (6.35, 20.5), (6.5, 20.5), (6.66, 20.5), (6.85, 20.5), (7.0, 20.5),
    (7.15, 20.5), (7.3, 20.5), (7.45, 20.5), (7.6, 20.5), (7.78, 20.5), (8.17, 20.5),
    (0.24, 13), (0.37, 13), (3.4, 13), (4.46, 13.5), (6.23, 18.5), (6.19, 14.6), (6.4, 12.5), (3.5, 26), (5.07, 27),
    (0.2, 8), (0.3, 5), (0.5, 7.5), (0.6, 4), (0.4, 3), (0.8, 6), (0.7, 2.6), (1.0, 4.5), (1.2, 3.2), (1.3, 7),
    (1.4, 2.4), (1.5, 5), (1.6, 3.6), (1.7, 8), (1.8, 2.8), (1.9, 4.2), (2.0, 6.5), (2.1, 3.0), (2.2, 10),
    (2.3, 4.8), (2.4, 2.5), (2.5, 6.8), (2.6, 3.5), (2.7, 2.2), (2.8, 5.5), (2.9, 4), (3.0, 7), (3.1, 2.8),
    (3.2, 9), (3.3, 4.5), (3.4, 6.5), (3.5, 3.2), (3.6, 5.2), (3.7, 2.4), (3.8, 7.8), (3.9, 3.8), (4.0, 10),
    (4.1, 5.8), (4.2, 2.9), (4.3, 4.4), (4.4, 6.8), (4.5, 3.4), (4.6, 2.3), (4.7, 5.0), (4.8, 3.6), (4.9, 2.6),
    (5.0, 4.2), (5.1, 7.5), (5.2, 3.1), (5.3, 5.5), (5.4, 9.5), (5.5, 4.0), (5.6, 6.2), (5.7, 2.5), (5.8, 3.5),
    (5.9, 4.8), (6.0, 2.2), (6.1, 8.5), (6.2, 3.8), (6.3, 5.8), (6.4, 2.7), (6.5, 4.5), (6.6, 9.5), (6.7, 3.2),
    (6.8, 6.5), (6.9, 4.0), (7.0, 2.5), (7.1, 6.8), (7.2, 3.6), (7.3, 2.3), (7.4, 4.0), (7.5, 6.2), (7.6, 6.8),
    (7.7, 5.8), (7.8, 7), (7.9, 2.0), (8.2, 2.6), (8.4, 4.0), (8.1, 3.0), (5.3, 6.0), (5.4, 5.6), (5.5, 5.2),
    (3.1, 6.8), (3.3, 6.9), (3.5, 6.9), (3.7, 6.9), (3.9, 6.9), (4.1, 6.9), (4.3, 6.9), (4.5, 6.9), (2.7, 6.9),
    (2.9, 6.9), (2.4, 6.9), (1.4, 7), (1.6, 6.5), (5.0, 6.9), (6.3, 7.5), (7.2, 10), (6.8, 10), (3.3, 9.5),
    (0.3, 7.8), (0.6, 2.2), (0.9, 2.1), (1.1, 2.2), (1.6, 2.1), (2.0, 2.1), (2.5, 2.0), (3.0, 2.1), (3.5, 2.0),
    (4.0, 2.1), (4.5, 2.05), (5.0, 2.1), (5.5, 2.0), (6.0, 2.0), (6.5, 2.1), (7.0, 2.0),
    (0.1, 1.8), (0.12, 1.4), (0.09, 1.1), (0.14, 0.85), (0.3, 1.75), (0.33, 1.3), (0.28, 1.0), (0.31, 0.8),
    (0.5, 1.85), (0.48, 1.5), (0.53, 1.2), (0.51, 0.9), (0.7, 1.7), (0.73, 1.35), (0.68, 1.05), (0.9, 1.8),
    (0.92, 1.55), (0.88, 1.15), (0.91, 0.85), (1.1, 1.75), (1.13, 1.4), (1.08, 1.0), (1.3, 1.85), (1.32, 1.25),
    (1.28, 0.95), (1.5, 1.7), (1.53, 1.45), (1.48, 1.1), (1.7, 1.8), (1.72, 1.3), (1.68, 1.0), (1.71, 0.8),
    (1.9, 1.75), (1.93, 1.5), (1.88, 1.2), (2.1, 1.85), (2.12, 1.35), (2.08, 1.05), (2.11, 0.85), (2.3, 1.7),
    (2.33, 1.55), (2.28, 1.15), (2.5, 1.8), (2.52, 1.4), (2.48, 1.0), (2.51, 0.78), (2.7, 1.75), (2.73, 1.25),
    (2.68, 0.95), (2.9, 1.85), (2.92, 1.5), (2.88, 1.1), (3.1, 1.7), (3.13, 1.35), (3.08, 1.0), (3.11, 0.8),
    (3.3, 1.8), (3.32, 1.55), (3.28, 1.2), (3.5, 1.75), (3.53, 1.4), (3.48, 1.05), (3.51, 0.85), (3.7, 1.85),
    (3.72, 1.3), (3.68, 0.95), (3.9, 1.7), (3.93, 1.5), (3.88, 1.15), (4.1, 1.8), (4.12, 1.35), (4.08, 1.0),
    (4.11, 0.8), (4.3, 1.75), (4.33, 1.55), (4.28, 1.2), (4.5, 1.85), (4.52, 1.4), (4.48, 1.05), (4.51, 0.88),
    (4.7, 1.7), (4.73, 1.25), (4.68, 0.95), (4.9, 1.8), (4.92, 1.5), (4.88, 1.1), (5.1, 1.75), (5.13, 1.35),
    (5.08, 1.0), (5.11, 0.82), (5.3, 1.85), (5.32, 1.55), (5.28, 1.2), (5.5, 1.7), (5.53, 1.4), (5.48, 1.05),
    (5.51, 0.9), (5.7, 1.8), (5.72, 1.3), (5.68, 0.98), (5.9, 1.75), (5.93, 1.5), (5.88, 1.15), (6.1, 1.65),
    (6.12, 1.35), (6.08, 1.05), (6.11, 0.85), (6.3, 1.7), (6.33, 1.2), (6.28, 0.95), (6.5, 1.6), (6.52, 1.4),
    (6.48, 1.1), (6.7, 1.55), (6.73, 1.25), (6.68, 1.0), (6.71, 0.8), (6.9, 1.6), (6.92, 1.15), (6.88, 0.9),
    (7.1, 1.5), (7.13, 1.3), (7.08, 1.05), (7.3, 1.4), (7.32, 1.1), (7.28, 0.85), (7.5, 1.3), (7.53, 1.0),
    (7.7, 1.2), (7.72, 1.05), (7.68, 0.75), (7.9, 1.15), (7.93, 0.95), (8.0, 1.1), (8.2, 1.0), (8.4, 1.05),
    (8.6, 1.0), (8.8, 1.0), (9.1, 1.0), (9.2, 0.97), (8.1, 1.6), (8.2, 2.5), (8.3, 3.2),
    (0.2, 1.6), (0.4, 1.2), (0.6, 1.45), (0.8, 1.1), (1.0, 1.65), (1.2, 1.35), (1.4, 1.0), (1.6, 1.6), (1.8, 1.15),
    (2.0, 1.45), (2.2, 1.0), (2.4, 1.65), (2.6, 1.2), (2.8, 1.55), (3.0, 1.25), (3.2, 0.95), (3.4, 1.6), (3.6, 1.15),
    (3.8, 1.5), (4.0, 1.25), (4.2, 0.9), (4.4, 1.6), (4.6, 1.15), (4.8, 1.45), (5.0, 1.25), (5.2, 0.92), (5.4, 1.6),
    (5.6, 1.15), (5.8, 1.45), (6.0, 1.25), (6.2, 1.0), (6.4, 1.55), (6.6, 1.2), (6.8, 1.35), (7.0, 1.1), (7.2, 0.95),
    (7.4, 1.2), (7.6, 1.1), (7.8, 0.9), (8.0, 1.0),
    (0.15, 1.25), (0.35, 1.55), (0.55, 1.05), (0.75, 1.85), (0.95, 1.3), (1.15, 1.6), (1.35, 1.1), (1.55, 1.8),
    (1.75, 1.45), (1.95, 1.05), (2.15, 1.6), (2.35, 1.3), (2.55, 1.85), (2.75, 1.45), (2.95, 1.3), (3.15, 1.6),
    (3.35, 1.1), (3.55, 1.85), (3.75, 1.2), (3.95, 1.35), (4.15, 1.6), (4.35, 1.05), (4.55, 1.75), (4.75, 1.5),
    (4.95, 1.3), (5.15, 1.6), (5.35, 1.05), (5.55, 1.75), (5.75, 1.45), (5.95, 1.3), (6.15, 1.5), (6.35, 1.05),
    (6.55, 1.3), (6.75, 1.45), (6.95, 1.05), (7.15, 1.15), (7.35, 1.3), (7.55, 0.95), (7.75, 1.15), (7.95, 1.05),
    (0.05, 1.5), (0.22, 1.85), (0.42, 1.7), (0.62, 1.15), (0.82, 1.6), (1.02, 1.2), (1.22, 1.8), (1.42, 1.55),
    (1.62, 1.25), (1.82, 1.7), (2.02, 1.2), (2.22, 1.75), (2.42, 1.1), (2.62, 1.6), (2.82, 1.2), (3.02, 1.75),
    (3.22, 1.45), (3.42, 1.2), (3.62, 1.75), (3.82, 1.1), (4.02, 1.65), (4.22, 1.3), (4.42, 1.8), (4.62, 1.4),
    (4.82, 1.2), (5.02, 1.65), (5.22, 1.3), (5.42, 1.15), (5.62, 1.6), (5.82, 1.2), (6.02, 1.4), (6.22, 1.6),
    (6.42, 1.15), (6.62, 1.5), (6.82, 1.15), (7.02, 1.3), (7.22, 1.2), (7.42, 1.05), (7.62, 1.25), (7.82, 1.0),
    (8.05, 1.15), (8.25, 0.95),
    (0.25, 0.95), (0.65, 0.8), (1.05, 0.9), (1.45, 0.82), (1.85, 0.95), (2.25, 0.82), (2.65, 0.88), (3.05, 0.9),
    (3.45, 0.8), (3.85, 0.88), (4.25, 0.8), (4.65, 0.85), (5.05, 0.92), (5.45, 0.8), (5.85, 0.88), (6.25, 0.78),
    (6.65, 0.88), (7.05, 0.8), (7.45, 0.76), (7.85, 0.8), (8.3, 1.1), (8.5, 0.98), (8.7, 1.05),
    (0.3, 0.6), (0.8, 0.65), (1.2, 0.62), (1.6, 0.62), (1.9, 0.6), (2.2, 0.61), (2.5, 0.6), (2.8, 0.62), (3.1, 0.6),
    (3.4, 0.62), (3.7, 0.6), (4.0, 0.61), (4.3, 0.6), (4.6, 0.62), (4.9, 0.6), (5.2, 0.61), (5.5, 0.6), (5.8, 0.62),
    (6.1, 0.6), (6.4, 0.61), (6.7, 0.6), (7.0, 0.62), (7.3, 0.6), (7.6, 0.62), (8.1, 0.6),
    (0.2, 0.45), (0.4, 0.44), (0.55, 0.46), (0.7, 0.45), (0.9, 0.47), (1.0, 0.44), (1.2, 0.45), (1.5, 0.44),
    (1.8, 0.46), (2.1, 0.45), (2.4, 0.44), (2.6, 0.46), (2.8, 0.5), (3.7, 0.44), (3.9, 0.45), (4.1, 0.42),
    (4.3, 0.44), (4.5, 0.46), (4.9, 0.44), (3.9, 0.38), (4.0, 0.36),
    (1.5, 0.35), (1.9, 0.36), (4.2, 0.35), (6.6, 0.38), (7.0, 0.3), (7.8, 0.42), (5.4, 0.25), (4.2, 0.19),
    (0.9, 0.137), (0.05, 0.137),
]

p4_pts = [
    (0.1, 15), (0.16, 15), (0.38, 15), (0.85, 15), (0.95, 15), (1.03, 15), (2.04, 15), (2.45, 15), (2.88, 15),
    (3.09, 15), (3.82, 15), (3.9, 15), (3.95, 15), (4.21, 15), (4.51, 15), (4.51, 28.5), (6.09, 50),
    (4.2, 13.5), (4.21, 11.5), (4.33, 11.5), (4.4, 11.5), (4.47, 11.5), (6.02, 15.2), (6.24, 9.5),
    (0.08, 7.5), (0.16, 7.5), (0.26, 7.5), (1.46, 7.5), (2.04, 7.5), (2.58, 7.5), (2.66, 7.5), (2.75, 7.5),
    (2.84, 7.5), (2.92, 7.5), (3.0, 7.5), (3.74, 7.5), (4.0, 7.6), (4.05, 7.4), (4.8, 7.5), (4.88, 7.5),
    (5.0, 7.5), (0.41, 5.8), (2.13, 5.05), (3.18, 5.7), (3.3, 5.7), (3.45, 5.7), (3.57, 5.7), (3.74, 5.6),
    (3.94, 4.85), (4.39, 5.25), (4.43, 4.7), (5.88, 5.9), (5.95, 5.9), (7.4, 5.35), (7.48, 5.6), (7.01, 3.7),
    (7.27, 3.0), (0.08, 4.0), (0.16, 4.0), (1.5, 3.7), (2.62, 3.7), (2.79, 3.4), (0.08, 3.0), (0.16, 3.0),
    (0.26, 3.0), (0.6, 3.0), (0.68, 2.7), (1.47, 3.0), (2.08, 3.0), (2.36, 2.8), (2.59, 2.95), (1.28, 2.5),
    (1.35, 2.5), (1.41, 2.5), (1.82, 2.3), (3.13, 2.5), (2.19, 2.05), (2.27, 2.05), (2.33, 2.05), (2.4, 2.05),
    (2.58, 2.17), (2.66, 2.17), (2.75, 2.17), (2.82, 2.17), (2.88, 2.17), (2.4, 1.82), (2.49, 1.82), (2.62, 1.7),
    (2.9, 1.85), (3.05, 2.0), (3.13, 1.64), (1.83, 1.55), (1.9, 1.55), (2.02, 1.55), (4.23, 1.6), (1.73, 1.3),
    (1.8, 1.25), (3.2, 1.15), (4.82, 2.1), (4.9, 2.1), (5.09, 2.05), (6.49, 1.82), (6.49, 1.47), (6.81, 1.62),
    (6.26, 1.23), (5.61, 1.18),
    (0.77, 1.0), (1.11, 1.0), (1.2, 1.0), (1.3, 1.0), (1.4, 1.0), (1.5, 1.0), (1.63, 1.0), (1.8, 1.0), (1.9, 1.0),
    (2.0, 1.0), (2.08, 1.0), (2.16, 1.0), (2.25, 1.0), (2.33, 1.0), (2.42, 1.0), (2.5, 1.0), (2.6, 1.0),
    (2.7, 1.0), (2.83, 1.0), (3.13, 1.0), (3.57, 1.0), (3.7, 1.0), (3.9, 1.0), (3.98, 1.0), (4.05, 1.0),
    (4.12, 0.97), (4.18, 1.0), (4.25, 1.0), (4.32, 1.0), (4.4, 1.0), (4.47, 1.0), (4.55, 1.0), (4.6, 1.0),
    (4.86, 1.0), (4.99, 1.0), (5.75, 1.0), (6.26, 1.0), (5.61, 0.86), (6.52, 0.93), (6.78, 0.81),
    (3.13, 0.8), (2.7, 0.76), (2.79, 0.76), (2.1, 0.67), (2.2, 0.67), (2.3, 0.67), (2.4, 0.67), (2.58, 0.67),
    (2.68, 0.67), (2.78, 0.67), (2.86, 0.67), (2.96, 0.67), (3.38, 0.63), (3.64, 0.7), (3.74, 0.68),
    (3.84, 0.7), (3.94, 0.67), (4.03, 0.66), (4.3, 0.56), (4.51, 0.73), (4.6, 0.75), (4.64, 0.7), (4.69, 0.5),
    (4.84, 0.78), (4.89, 0.65), (5.07, 0.55), (0.16, 0.49), (0.26, 0.49), (0.34, 0.49), (0.6, 0.49),
    (1.18, 0.49), (2.75, 0.49), (3.55, 0.49), (3.82, 0.49), (1.71, 0.34), (1.93, 0.34), (3.68, 0.275),
    (3.91, 0.17), (4.0, 0.175), (4.08, 0.18), (4.17, 0.17), (4.88, 0.148),
]

# fitted trend line (end points) and the reference level
fit1_x, fit1_y = [0, 9.27], [3.85, 11.9]
fit2_x, fit2_y = [0, 9.47], [0.59, 4.3]
fit3_x, fit3_y = [0, 9.27], [0.98, 0.305]
fit4_x, fit4_y = [0, 8.26], [3.2, 29.5]
ref_x, ref_y = [0, 10], [0.22, 0.22]

panels = [
    ("1", p1_x0, p1_pts, fit1_x, fit1_y),
    ("2", p2_x0, p2_pts, fit2_x, fit2_y),
    ("3", p3_x0, p3_pts, fit3_x, fit3_y),
    ("4", p4_x0, p4_pts, fit4_x, fit4_y),
]

y_tickvals = [0.1, 1, 10, 100]
y_ticktext = ["10<sup>-1</sup>", "10<sup>0</sup>", "10<sup>1</sup>", "10<sup>2</sup>"]
y_minor = [m * 10 ** e for e in (-1, 0, 1) for m in range(2, 10)]

FONT = "Liberation Sans, Arial, sans-serif"
OFF = 8                       # page body margin in the browser
W, H = 1002 - OFF, 810 - OFF
# plot-area boxes in screen pixels: (left, right, top, bottom)
boxes = [(89, 474, 35, 332), (597, 984, 35, 332), (89, 474, 450, 743), (597, 984, 450, 743)]

fig = go.Figure()
for i, (name, col0, pts, fx, fy) in enumerate(panels):
    n = "" if i == 0 else str(i + 1)
    xs = [0] * len(col0) + [p[0] for p in pts]
    ys = list(col0) + [p[1] for p in pts]
    fig.add_trace(go.Scatter(x=xs, y=ys, mode="markers", xaxis="x" + n, yaxis="y" + n, cliponaxis=False,
                             marker=dict(color="#0000ff", size=5, line=dict(width=0)), showlegend=False))
    fig.add_trace(go.Scatter(x=fx, y=fy, mode="lines", xaxis="x" + n, yaxis="y" + n,
                             line=dict(color="#ff0000", width=4.5), showlegend=False))
    fig.add_trace(go.Scatter(x=ref_x, y=ref_y, mode="lines", xaxis="x" + n, yaxis="y" + n,
                             line=dict(color="#00ff00", width=4.5), showlegend=False))

    l, r, t, b = [v - OFF for v in boxes[i]]
    fig.layout["xaxis" + n] = dict(
        domain=[l / W, r / W], anchor="y" + n, range=[0, 10], tickvals=[0, 2, 4, 6, 8, 10], automargin=False,
        showgrid=True, gridcolor="#dcdcdc", gridwidth=1.5, zeroline=False,
        showline=True, linecolor="#262626", linewidth=2, ticks="inside", ticklen=4, tickcolor="#262626",
        ticklabelstandoff=4,
        tickfont=dict(family=FONT, size=20, color="#333333"),
        title=dict(text="windsnelheid (m/s)", font=dict(family=FONT, size=23, color="#333333"), standoff=14),
    )
    fig.layout["yaxis" + n] = dict(
        domain=[1 - b / H, 1 - t / H], anchor="x" + n, type="log", range=[-1, 2], automargin=False,
        tickvals=y_tickvals, ticktext=y_ticktext,
        showgrid=True, gridcolor="#dcdcdc", gridwidth=1.5, zeroline=False,
        minor=dict(tickvals=y_minor, showgrid=True, gridcolor="#e4e4e4", griddash="dash", gridwidth=1, ticks=""),
        showline=True, linecolor="#262626", linewidth=2, ticks="inside", ticklen=4, tickcolor="#262626",
        tickfont=dict(family=FONT, size=20, color="#333333"),
        title=dict(text="schermkier/raamkier", font=dict(family=FONT, size=23, color="#333333"), standoff=11),
    )
    fig.add_annotation(text="<b>" + name + "</b>", x=(l + r) / 2 / W, y=1 - (t - 27) / H, xref="paper",
                       yref="paper", yanchor="top", showarrow=False,
                       font=dict(family=FONT, size=18, color="#000000"))

fig.update_layout(width=W, height=H, margin=dict(l=0, r=0, t=0, b=0),
                  paper_bgcolor="white", plot_bgcolor="white", showlegend=False)

fig.write_html("out.html", config={"displayModeBar": False})
